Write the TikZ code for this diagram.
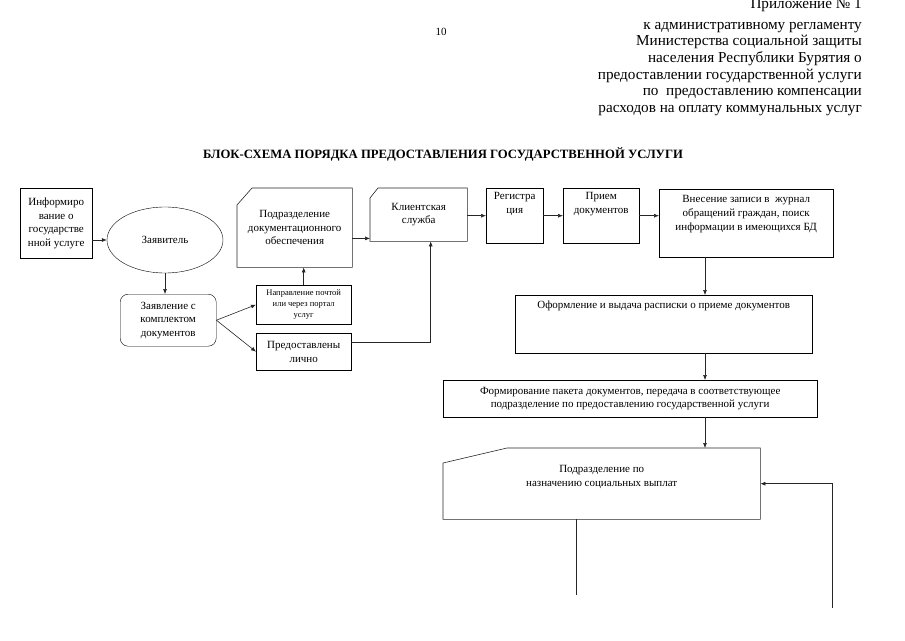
\documentclass[tikz,border=0pt]{standalone}
\usepackage{fontspec}
\setmainfont{Liberation Serif}
\usetikzlibrary{arrows.meta}
\usetikzlibrary{positioning}
\usetikzlibrary{shapes.geometric}

\tikzset{
  blk/.style={draw, rectangle, anchor=north west, inner sep=2pt, align=center,
    font=\fontsize{11}{13.5}\selectfont},
  blksmall/.style={blk, font=\fontsize{8.5}{11}\selectfont},
  blktext/.style={align=center, inner sep=0pt, font=\fontsize{11}{14}\selectfont},
  pline/.style={line width=0.6pt, draw=black!85},
  arr/.style={pline, -{Latex[length=5pt,width=4pt]}},
  hdrline/.style={anchor=base east, inner sep=0pt, font=\fontsize{15.2}{16}\selectfont},
}

\begin{document}
\begin{tikzpicture}[x=1pt,y=-1pt]
  \useasboundingbox (0,0) rectangle (905,640);
  %% header
  \node[hdrline] (hdr0) at (862,8) {Приложение № 1};
  \foreach \ln [count=\i] in {к административному регламенту,
      Министерства социальной защиты, населения Республики Бурятия о,
      предоставлении государственной услуги, по\ \ предоставлению компенсации,
      расходов на оплату коммунальных услуг}
    \node[hdrline] (hdr\i) at (862,12.3+16.7*\i) {\ln};
  \node[font=\fontsize{11}{13}\selectfont] (pagenum) at (441,32) {10};
  \node[font=\bfseries\fontsize{12.7}{14}\selectfont] (title) at (443,154)
    {БЛОК-СХЕМА ПОРЯДКА ПРЕДОСТАВЛЕНИЯ ГОСУДАРСТВЕННОЙ УСЛУГИ};

  %% left part
  \node[blk, minimum width=72, minimum height=70] (info) at (20,188)
    {Информиро\\вание о\\государстве\\нной услуге};
  \node[draw, ellipse, minimum width=116, minimum height=66,
    font=\fontsize{11}{13}\selectfont] (zayav) at (165,240) {Заявитель};
  \node[blk, rounded corners=8pt, minimum width=96, minimum height=52] (zayavl) at (120,294)
    {Заявление с\\комплектом\\документов};
  \node[blk, draw=none, minimum width=115, minimum height=79] (podr) at (237,188)
    {Подразделение\\документационного\\обеспечения};
  \draw[pline] ([yshift=-17pt]podr.north west) -- ([xshift=15pt]podr.north west)
    -- (podr.north east) -- (podr.south east) -- (podr.south west) -- cycle;
  \node[blk, draw=none, minimum width=97, minimum height=53] (klient) at (370,188)
    {Клиентская\\служба};
  \draw[pline] ([yshift=-10pt]klient.north west) -- ([xshift=8pt]klient.north west)
    -- (klient.north east) -- (klient.south east) -- (klient.south west) -- cycle;
  \node[blksmall, minimum width=95, minimum height=39] (pochta) at (256,285)
    {Направление почтой\\или через портал\\услуг};
  \node[blk, minimum width=95, minimum height=37] (lichno) at (256,333)
    {Предоставлены\\лично};

  %% top row
  \node[blk, minimum width=57, minimum height=55] (reg) at (486,188) {};
  \node[blktext, below=4pt of reg.north] (regtxt) {Регистра\\ция};
  \node[blk, minimum width=76, minimum height=55] (priem) at (563,188) {};
  \node[blktext, below=4pt of priem.north] (priemtxt) {Прием\\документов};
  \node[blk, minimum width=174, minimum height=68] (vnes) at (659,189) {};
  \node[blktext, below=6pt of vnes.north] (vnestxt)
    {Внесение записи в\ \ журнал\\обращений граждан, поиск\\информации в имеющихся БД};

  %% right column
  \node[blk, minimum width=297, minimum height=58] (oform) at (515,295) {};
  \node[blktext, below=6pt of oform.north] (oformtxt)
    {Оформление и выдача расписки о приеме документов};
  \node[blk, minimum width=374, minimum height=37] (formir) at (443,380)
    {Формирование пакета документов, передача в соответствующее\\подразделение по предоставлению государственной услуги};
  \node[blk, draw=none, minimum width=317, minimum height=71] (podrsoc) at (443,448) {};
  \draw[pline] ([yshift=-15pt]podrsoc.north west) -- ([xshift=64pt]podrsoc.north west)
    -- (podrsoc.north east) -- (podrsoc.south east) -- (podrsoc.south west) -- cycle;
  \node[blktext, below=17pt of podrsoc.north] (podrsoctxt)
    {Подразделение по\\назначению социальных выплат};

  %% connectors
  \coordinate (kin) at ([yshift=3pt]klient.south west);
  \coordinate (kbot) at ([xshift=12pt]klient.south);
  \coordinate (axis) at (705,0);
  \coordinate (out1) at (576,595);
  \coordinate (in1) at (832,608);
  \draw[arr] (info.east |- zayav.west) -- (zayav.west);
  \draw[arr] (zayav.south) -- (zayav.south |- zayavl.north);
  \draw[arr] (zayavl.east) -- (pochta.west);
  \draw[arr] (zayavl.east) -- (lichno.west);
  \draw[arr] (pochta.north) -- (pochta.north |- podr.south);
  \draw[arr] (podr.east |- kin) -- (kin);
  \draw[arr] ([yshift=9pt]lichno.east) -| (kbot);
  \draw[arr] (klient.east |- reg.west) -- (reg.west);
  \draw[arr] (reg.east) -- (priem.west);
  \draw[arr] (priem.east) -- (priem.east -| vnes.west);
  \draw[arr] (vnes.south -| axis) -- (oform.north -| axis);
  \draw[arr] (oform.south -| axis) -- (formir.north -| axis);
  \draw[arr] (formir.south -| axis) -- (podrsoc.north -| axis);
  \draw[pline] (out1 |- podrsoc.south) -- (out1);
  \draw[arr] (in1) |- (podrsoc.east);
\end{tikzpicture}
\end{document}
